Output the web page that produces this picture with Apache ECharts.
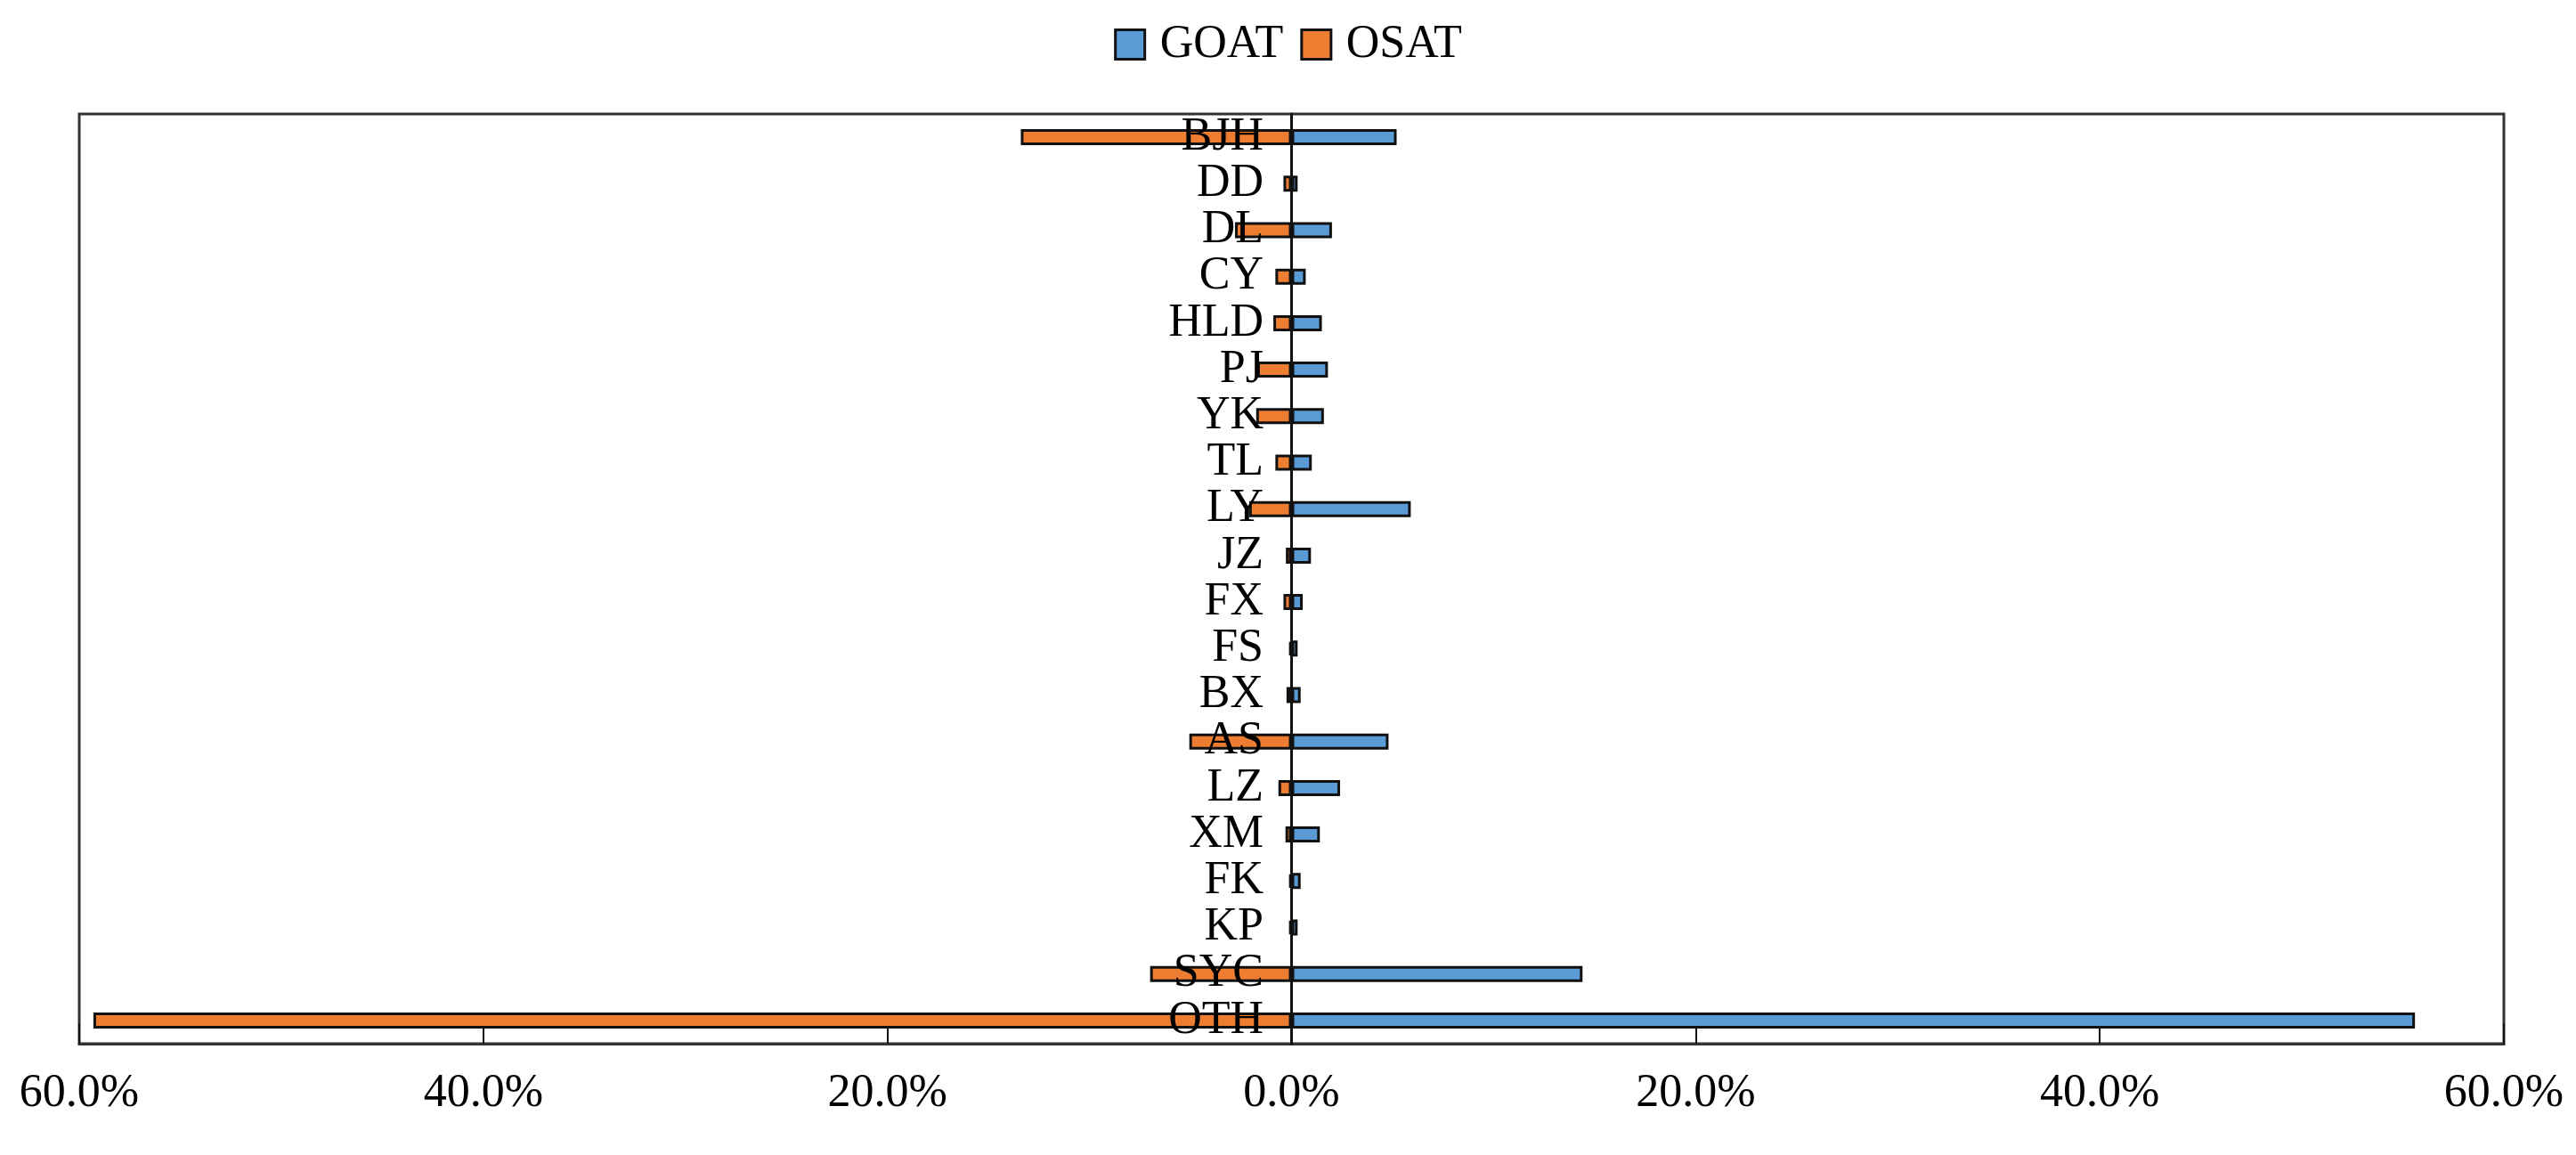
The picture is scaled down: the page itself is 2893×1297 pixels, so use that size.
<!DOCTYPE html>
<html>
<head>
<meta charset="utf-8">
<script src="https://cdn.jsdelivr.net/npm/echarts@6/dist/echarts.min.js"></script>
<style>
  html, body { margin: 0; padding: 0; background: #fff; }
  #chart { width: 2893px; height: 1297px; }
</style>
</head>
<body>
<div id="chart"></div>
<script>
// Categories top to bottom
const categories = ['BJH', 'DD', 'DL', 'CY', 'HLD', 'PJ', 'YK', 'TL', 'LY', 'JZ', 'FX', 'FS', 'BX', 'AS', 'LZ', 'XM', 'FK', 'KP', 'SYC', 'OTH'];
// GOAT shares (%), drawn to the right
const goat = [5.2, 0.3, 2.0, 0.7, 1.5, 1.8, 1.6, 1.0, 5.9, 0.96, 0.55, 0.3, 0.45, 4.8, 2.4, 1.4, 0.45, 0.3, 14.4, 55.6];
// OSAT shares (%), drawn to the left
const osat = [13.4, 0.4, 2.8, 0.8, 0.9, 1.7, 1.75, 0.8, 2.1, 0.28, 0.4, 0.12, 0.25, 5.06, 0.65, 0.3, 0.12, 0.12, 7.0, 59.3];
// Axis ticks
const axisMin = -60, axisMax = 60, axisStep = 20;

const FONT = 'Liberation Serif';
const chart = echarts.init(document.getElementById('chart'));
chart.setOption({
  animation: false,
  backgroundColor: '#fff',
  legend: {
    top: 24,
    left: 'center',
    padding: 0,
    itemGap: 19,
    itemWidth: 33,
    itemHeight: 33,
    icon: 'rect',
    itemStyle: { borderColor: '#111', borderWidth: 3 },
    textStyle: { fontFamily: FONT, fontSize: 52, color: '#000', padding: [0, 0, 0, 12] },
    data: ['GOAT', 'OSAT']
  },
  grid: {
    left: 89, right: 81, top: 128, bottom: 125,
    containLabel: false,
    outerBoundsMode: 'none',
    show: true,
    borderColor: '#333',
    borderWidth: 3,
    backgroundColor: 'transparent'
  },
  xAxis: {
    type: 'value',
    min: axisMin,
    max: axisMax,
    interval: axisStep,
    axisLine: { show: true, lineStyle: { color: '#333', width: 3 } },
    axisTick: { show: true, inside: true, length: 23, lineStyle: { color: '#111', width: 2 } },
    splitLine: { show: false },
    axisLabel: {
      margin: 30,
      fontFamily: FONT,
      fontSize: 52,
      color: '#000',
      formatter: v => Math.abs(v).toFixed(1) + '%'
    }
  },
  yAxis: {
    type: 'category',
    inverse: true,
    data: categories,
    z: 10,
    axisLine: { show: true, onZero: true, lineStyle: { color: '#111', width: 3 } },
    axisTick: { show: false },
    splitLine: { show: false },
    axisLabel: { show: false }
  },
  series: [
    {
      name: 'GOAT',
      type: 'bar',
      barWidth: 18,
      barGap: '-100%',
      data: goat,
      itemStyle: { color: '#5B9BD5', borderColor: '#111', borderWidth: 3 }
    },
    {
      name: 'OSAT',
      type: 'bar',
      barWidth: 18,
      barGap: '-100%',
      data: osat.map(v => -v),
      itemStyle: { color: '#ED7D31', borderColor: '#111', borderWidth: 3 }
    },
    {
      // category names placed beside the zero line, drawn over the bars
      name: 'labels',
      type: 'scatter',
      silent: true,
      z: 20,
      symbolSize: 1,
      itemStyle: { color: 'rgba(0,0,0,0)' },
      data: categories.map(c => [0, c]),
      label: {
        show: true,
        position: 'left',
        distance: 31,
        fontFamily: FONT,
        fontSize: 52,
        color: '#000',
        opacity: 1,
        textBorderWidth: 0,
        formatter: p => p.value[1]
      }
    }
  ]
});
</script>
</body>
</html>
